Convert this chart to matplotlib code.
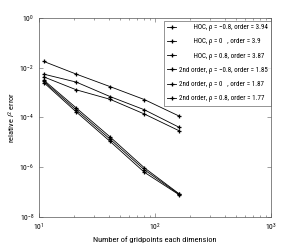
import numpy as np
import matplotlib.pyplot as plt
from matplotlib import font_manager


def pick_font(names):
    for name in names:
        try:
            font_manager.findfont(font_manager.FontProperties(family=name),
                                  fallback_to_default=False)
            return name
        except Exception:
            continue
    return 'DejaVu Sans'


narrow = pick_font(['Liberation Sans Narrow', 'DejaVu Sans Condensed',
                    'Roboto Condensed', 'Open Sans Condensed', 'Liberation Sans'])
plt.rcParams['font.family'] = [narrow, 'DejaVu Sans']
plt.rcParams['mathtext.fontset'] = 'custom'
plt.rcParams['mathtext.rm'] = narrow
plt.rcParams['mathtext.it'] = narrow + ':italic'

gridpoints = [11, 21, 41, 81, 161]

# log10 of relative error
hoc_m08 = [-2.50, -3.62, -4.78, -6.02, -7.06]
hoc_0 = [-2.55, -3.70, -4.87, -6.10, -7.08]
hoc_08 = [-2.60, -3.78, -4.96, -6.20, -7.10]
second_m08 = [-1.75, -2.26, -2.76, -3.28, -3.94]
second_0 = [-2.26, -2.58, -3.16, -3.69, -4.39]
second_08 = [-2.37, -2.89, -3.27, -3.86, -4.53]

labels = [
    "         HOC, \u03c1 = \u22120.8, order = 3.94",
    "         HOC, \u03c1 = 0   , order = 3.9",
    "         HOC, \u03c1 = 0.8, order = 3.87",
    "2nd order, \u03c1 = \u22120.8, order = 1.85",
    "2nd order, \u03c1 = 0   , order = 1.87",
    "2nd order, \u03c1 = 0.8, order = 1.77",
]
series = [hoc_m08, hoc_0, hoc_08, second_m08, second_0, second_08]

fig = plt.figure(figsize=(3.0, 2.45), dpi=100)
ax = fig.add_axes([0.13, 0.114, 0.773, 0.813])

for vals, lab in zip(series, labels):
    ax.plot(gridpoints, 10 ** np.array(vals), color='black', linewidth=0.6,
            marker='+', markersize=3.5, markeredgewidth=0.9, label=lab)

ax.set_xscale('log')
ax.set_yscale('log')
ax.set_xlim(10, 1000)
ax.set_ylim(1e-8, 1)
ax.set_yticks([1e-8, 1e-6, 1e-4, 1e-2, 1])
ax.yaxis.set_minor_locator(plt.NullLocator())
ax.tick_params(which='both', direction='in', top=True, right=True,
               labelsize=5.5, width=0.4, color='#555555')
ax.tick_params(which='major', length=3)
ax.tick_params(which='minor', length=1.5)
for s in ax.spines.values():
    s.set_linewidth(0.5)
    s.set_color('#555555')

ax.set_xlabel("Number of gridpoints each dimension", fontsize=6, labelpad=2)
ax.set_ylabel("relative $l^2$ error", fontsize=6, labelpad=1)

leg = ax.legend(loc='upper right', bbox_to_anchor=(1.0, 0.985), fontsize=5.0,
                frameon=True, fancybox=False, edgecolor='#444444',
                handlelength=1.3, handletextpad=0.35, borderpad=0.45,
                labelspacing=1.05, borderaxespad=0)
leg.get_frame().set_linewidth(0.5)

fig.savefig("out.png", dpi=100)
